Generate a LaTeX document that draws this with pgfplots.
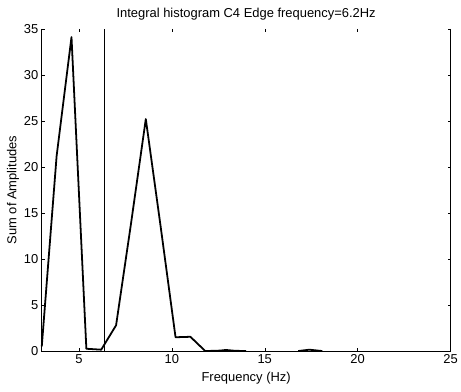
\documentclass[border=0pt]{standalone}
\usepackage{fontspec}
\setmainfont{Liberation Sans}
\usepackage{pgfplots}
\pgfplotsset{compat=1.18}
\begin{document}
\begin{tikzpicture}
\begin{axis}[
  scale only axis,
  width=411bp, height=324bp,
  xmin=3, xmax=25, ymin=0, ymax=35,
  xtick={5,10,15,20,25},
  ytick={0,5,10,15,20,25,30,35},
  tick align=inside,
  major tick length=3bp,
  tick style={black, line width=0.4pt},
  axis line style={draw=none},
  font=\fontsize{13bp}{15bp}\selectfont,
  /pgf/number format/assume math mode=true,
  title={Integral histogram C4 Edge frequency=6.2Hz},
  title style={at={(axis description cs:0.5,1.028)}, anchor=center},
  xlabel={Frequency (Hz)},
  ylabel={Sum of Amplitudes},
  xlabel style={at={(axis description cs:0.5,-0.0833)}, anchor=center},
  ylabel style={at={(axis description cs:-0.0706,0.5)}, anchor=center},
  unbounded coords=jump,
  clip=false,
]
\addplot[black, line width=1.8pt, line join=round] coordinates {
 (3.0,0.5) (3.8,21.2) (4.6,34.1) (5.4,0.25) (6.2,0.15) (7.0,2.8) (7.8,13.8) (8.6,25.2) (9.4,13.5) (10.2,1.5) (11.0,1.55) (11.8,0) (12.6,0.05) (12.9,0.12) (13.4,0.03) (14.0,0.0) (14.5,nan) (16.8,0) (17.4,0.15) (18.1,0)
};
\addplot[black, line width=0.6pt] coordinates {(6.35,0) (6.35,35)};
\draw[black, line width=0.6pt] (rel axis cs:0,1) -- (rel axis cs:0,0) -- (rel axis cs:1,0) -- (rel axis cs:1,1);
\coordinate (sw) at (rel axis cs:0,0);
\end{axis}
\path (sw) ++(-42bp,-41bp) rectangle ++(461bp,394bp);
\end{tikzpicture}
\end{document}
